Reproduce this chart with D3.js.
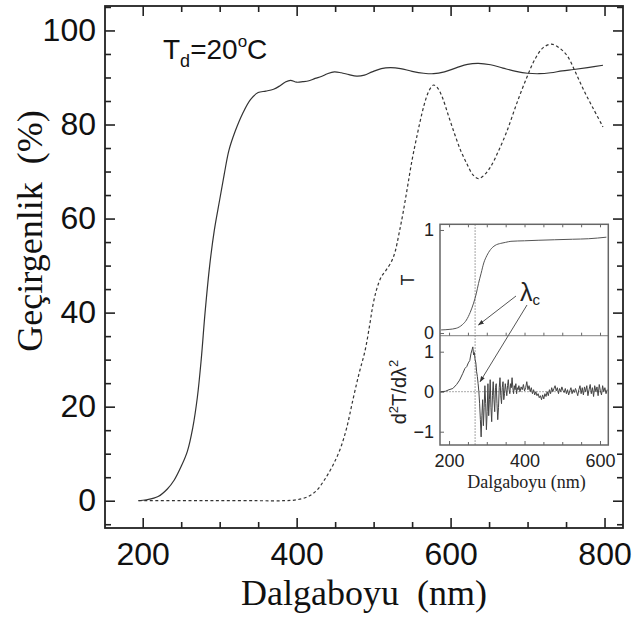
<!DOCTYPE html>
<html><head><meta charset="utf-8">
<script src="https://cdn.jsdelivr.net/npm/d3@7"></script>
<style>body{margin:0;background:#fff}</style>
</head><body>
<svg id="c" width="636" height="621" xmlns="http://www.w3.org/2000/svg"></svg>
<script>
// ---------- data ----------
const solidNm = [194,205,220,232,241,250,258,265,271,276,281,287,293,300,306,312,320,330,340,350,360,370,378,385,392,400,408,416,424,432,440,449,458,468,478,488,498,510,522,535,550,565,578,592,608,622,636,652,668,685,700,715,730,745,760,778,798];
const solidT  = [0,0.2,0.9,2.5,4.4,7.3,10.5,15.5,22,30,40,50,57.5,64,69.5,74.5,78.5,82.4,85.3,86.8,87.1,87.5,88.2,89.0,89.4,89.0,89.1,89.3,89.8,90.2,90.8,91.2,91.0,90.6,90.3,90.5,91.2,91.9,92.1,91.9,91.3,90.9,90.8,91.2,92.1,92.8,93.0,92.7,92.0,91.3,90.9,90.8,91.0,91.4,91.7,92.1,92.6];
const dashNm = [195,250,300,350,383,400,415,426,436,447,457,465,473,481,489,495,499,504,510,516,523,528,533,538,544,550,557,563,568,573,578,583,589,597,605,613,621,629,636,644,652,662,673,686,699,710,720,731,742,752,762,773,785,798];
const dashT  = [0,0,0,0,0,0.2,0.9,2.2,4.4,7.5,11.2,15.5,21.4,27,32,37.5,41.5,45,47.6,49,50.8,53,56.8,61,66.7,72.5,78.1,82.5,85.5,87.5,88.4,87.8,85.9,82,78.1,74.5,71.7,69.3,68.5,69.3,71,74.3,78.5,84.5,90,94,96.3,97.1,96.2,94.5,91.2,87.3,83.5,79.5];
const insetNm = [179,200,219,235,246,256,265,272,278,285,292,300,310,322,337,350,364,400,436,480,527,570,617];
const insetT  = [0.03,0.035,0.046,0.08,0.126,0.2,0.29,0.38,0.48,0.58,0.68,0.75,0.81,0.85,0.87,0.88,0.89,0.895,0.90,0.905,0.91,0.915,0.93];
const d2Nm = [178,190,200,210,220,228,236,242,247,251,255,258,261,263,265,267,269,271,273,275,277,279,281,283,285,287,289,291,293,295,297,299,301,303,305,307,309,311,313,315,317,319,321,323,325,327,329,331,333,335,337,339,341,343,345,347,349,351,353,355,357,359,361,363,365,367,369,371,373,375,377,379,381,383,385,388,391,394,397,400,403,406,409,412,415,418,421,424,427,430,433,436,439,442,445,448,451,454,457,460,463,466,469,472,475,478,481,484,487,490,493,496,499,502,505,508,511,514,517,520,523,526,529,532,535,538,541,544,547,550,553,556,559,562,565,568,571,574,577,580,583,586,589,592,595,598,601,604,607,610,613,616,619];
const d2Val = [0,0.01,0.05,0.08,0.18,0.29,0.45,0.58,0.63,0.72,0.78,0.95,1.05,1.12,0.92,0.98,0.8,0.72,0.5,0.38,0.2,0.0,-0.3,-0.7,-1.13,-0.6,-0.2,-0.85,-0.4,0.15,-0.3,-0.95,-0.5,0.2,-0.6,-0.2,0.3,-0.4,-0.75,-0.1,0.25,-0.2,-0.5,0.1,0.2,-0.3,-0.7,-0.4,0.1,0.35,-0.1,-0.3,0.1,0.25,-0.2,-0.05,0.2,0.05,-0.1,0.15,0.3,0.05,-0.05,0.2,0.1,0.35,0.1,-0.05,0.15,0.05,0.2,-0.05,0.1,0.05,0.15,0.0,0.12,0.05,0.18,0.02,0.1,0.25,0.05,0.15,0.0,0.1,-0.05,0.05,-0.08,0.0,-0.1,-0.05,-0.15,-0.1,-0.2,-0.08,-0.18,-0.05,-0.12,0.0,-0.1,0.05,-0.05,0.1,0.0,0.08,0.15,0.02,0.1,-0.05,0.08,0.0,0.12,0.03,-0.02,0.08,-0.05,0.05,-0.08,0.02,0.1,-0.05,0.05,-0.02,0.08,0.0,-0.1,0.05,0.15,-0.05,0.1,-0.08,0.12,0.0,0.15,-0.1,0.05,0.18,-0.05,0.1,-0.12,0.15,0.0,0.12,-0.1,0.18,0.02,-0.08,0.15,0.0,0.1,-0.05,0.05];
const lambdaC = 269;
const xMajor = [200,400,600,800];
const xMinor = [250,300,350,450,500,550,650,700,750];
const yMajor = [0,20,40,60,80,100];
const yMinor = [-5,5,10,15,25,30,35,45,50,55,65,70,75,85,90,95,105];
const insetXMajor = [200,400,600];
const insetXMinor = [250,300,350,450,500,550];
const insetTTicks = [0,1];
const insetDTicks = [-1,0,1];
const xTitle = "Dalgaboyu  (nm)";
const yTitle = "Geçirgenlik  (%)";
const insetXTitle = "Dalgaboyu (nm)";

// ---------- main chart ----------
const svg = d3.select("#c");
const SANS = "'Liberation Sans', Arial, Helvetica, sans-serif";
const SERIF = "'Liberation Serif', 'Times New Roman', serif";
const ink = "#222";

const X = d3.scaleLinear().domain([151, 824]).range([105, 623]);
const Y = d3.scaleLinear().domain([-5.8, 105.2]).range([528, 6]);

function styleAxis(g, fs) {
  g.select(".domain").remove();
  g.selectAll("line").attr("stroke", ink).attr("stroke-width", 1.6);
  g.selectAll("text").attr("font-family", SANS).attr("font-size", fs).attr("fill", "#111");
}
const main = svg.append("g");
// bottom
main.append("g").attr("transform", "translate(0,528)")
  .call(d3.axisBottom(X).tickValues(xMajor).tickSizeInner(-10).tickSizeOuter(0).tickPadding(14).tickFormat(d3.format("d")))
  .call(g => styleAxis(g, 32));
main.append("g").attr("transform", "translate(0,528)")
  .call(d3.axisBottom(X).tickValues(xMinor).tickSizeInner(-6).tickSizeOuter(0).tickFormat(""))
  .call(g => styleAxis(g, 32));
// top
main.append("g").attr("transform", "translate(0,6)")
  .call(d3.axisTop(X).tickValues(xMajor).tickSizeInner(-10).tickSizeOuter(0).tickFormat(""))
  .call(g => styleAxis(g, 32));
main.append("g").attr("transform", "translate(0,6)")
  .call(d3.axisTop(X).tickValues(xMinor).tickSizeInner(-6).tickSizeOuter(0).tickFormat(""))
  .call(g => styleAxis(g, 32));
// left
main.append("g").attr("transform", "translate(105,0)")
  .call(d3.axisLeft(Y).tickValues(yMajor).tickSizeInner(-10).tickSizeOuter(0).tickPadding(9).tickFormat(d3.format("d")))
  .call(g => styleAxis(g, 32));
main.append("g").attr("transform", "translate(105,0)")
  .call(d3.axisLeft(Y).tickValues(yMinor).tickSizeInner(-6).tickSizeOuter(0).tickFormat(""))
  .call(g => styleAxis(g, 32));
// right
main.append("g").attr("transform", "translate(623,0)")
  .call(d3.axisRight(Y).tickValues(yMajor).tickSizeInner(-10).tickSizeOuter(0).tickFormat(""))
  .call(g => styleAxis(g, 32));
main.append("g").attr("transform", "translate(623,0)")
  .call(d3.axisRight(Y).tickValues(yMinor).tickSizeInner(-6).tickSizeOuter(0).tickFormat(""))
  .call(g => styleAxis(g, 32));
// frame
main.append("rect").attr("x", X.range()[0]).attr("y", Y.range()[1])
  .attr("width", X.range()[1] - X.range()[0]).attr("height", Y.range()[0] - Y.range()[1])
  .attr("fill", "none").attr("stroke", ink).attr("stroke-width", 1.8);

// curves
const lineMain = d3.line().x(d => X(d[0])).y(d => Y(d[1])).curve(d3.curveCatmullRom.alpha(0.5));
main.append("path").datum(solidNm.map((n, i) => [n, solidT[i]]))
  .attr("d", lineMain).attr("fill", "none").attr("stroke", "#333").attr("stroke-width", 1.2);
main.append("path").datum(dashNm.map((n, i) => [n, dashT[i]]))
  .attr("d", lineMain).attr("fill", "none").attr("stroke", "#333").attr("stroke-width", 1.2)
  .attr("stroke-dasharray", "3,2.5");

// titles
main.append("text").attr("x", (X.range()[0] + X.range()[1]) / 2).attr("y", 605)
  .attr("text-anchor", "middle").attr("font-family", SERIF).attr("font-size", 36)
  .attr("fill", "#111").style("white-space", "pre").text(xTitle);
main.append("text").attr("transform", "translate(42,231) rotate(-90)")
  .attr("text-anchor", "middle").attr("font-family", SERIF).attr("font-size", 36)
  .attr("fill", "#111").style("white-space", "pre").text(yTitle);

// annotation T_d=20 oC
const ann = main.append("text").attr("x", 163).attr("y", 59)
  .attr("font-family", SANS).attr("font-size", 28).attr("fill", "#111");
ann.append("tspan").text("T");
ann.append("tspan").attr("font-size", 18).attr("dy", 8).text("d");
ann.append("tspan").attr("dy", -8).text("=20");
ann.append("tspan").attr("font-size", 17).attr("dy", -12).text("o");
ann.append("tspan").attr("dy", 12).text("C");

// ---------- inset ----------
const IX = d3.scaleLinear().domain([176, 622]).range([440, 608.3]);
const IT = d3.scaleLinear().domain([-0.026, 1.055]).range([335.7, 224.3]);
const ID = d3.scaleLinear().domain([-1.3325, 1.4]).range([445, 335.7]);
const ins = svg.append("g");
const gray = "#666";
ins.append("rect").attr("x", 440).attr("y", 224.3).attr("width", 168.3).attr("height", 220.7)
  .attr("fill", "#fff");
function styleInset(g) {
  g.select(".domain").remove();
  g.selectAll("line").attr("stroke", gray).attr("stroke-width", 1);
  g.selectAll("text").attr("font-family", SANS).attr("font-size", 18).attr("fill", "#222");
}
ins.append("line").attr("x1", 440).attr("x2", 608.3).attr("y1", IT.range()[0]).attr("y2", IT.range()[0])
  .attr("stroke", "#999").attr("stroke-width", 1.2);
ins.append("line").attr("x1", 440).attr("x2", 608.3).attr("y1", ID(0)).attr("y2", ID(0))
  .attr("stroke", "#aaa").attr("stroke-width", 1).attr("stroke-dasharray", "2,1");
ins.append("line").attr("x1", IX(lambdaC)).attr("x2", IX(lambdaC)).attr("y1", 224.3).attr("y2", 445)
  .attr("stroke", "#888").attr("stroke-width", 1).attr("stroke-dasharray", "1.5,1.5");
ins.append("g").attr("transform", "translate(0,445)")
  .call(d3.axisBottom(IX).tickValues(insetXMajor).tickSizeInner(-4).tickSizeOuter(0).tickPadding(9).tickFormat(d3.format("d")))
  .call(styleInset);
ins.append("g").attr("transform", "translate(0,445)")
  .call(d3.axisBottom(IX).tickValues(insetXMinor).tickSizeInner(-3).tickSizeOuter(0).tickFormat(""))
  .call(styleInset);
ins.append("g").attr("transform", "translate(0,224.3)")
  .call(d3.axisTop(IX).tickValues(insetXMajor.concat(insetXMinor)).tickSizeInner(-3).tickSizeOuter(0).tickFormat(""))
  .call(styleInset);
ins.append("g").attr("transform", `translate(0,${IT.range()[0]})`)
  .call(d3.axisTop(IX).tickValues(insetXMajor.concat(insetXMinor)).tickSizeInner(3).tickSizeOuter(0).tickFormat(""))
  .call(styleInset);
ins.append("g").attr("transform", "translate(440,0)")
  .call(d3.axisLeft(IT).tickValues(insetTTicks).tickSizeInner(-4).tickSizeOuter(0).tickPadding(6).tickFormat(d3.format("d")))
  .call(styleInset);
ins.append("g").attr("transform", "translate(440,0)")
  .call(d3.axisLeft(ID).tickValues(insetDTicks).tickSizeInner(-4).tickSizeOuter(0).tickPadding(6).tickFormat(d3.format("d")))
  .call(styleInset);
ins.append("rect").attr("x", 440).attr("y", 224.3).attr("width", 168.3).attr("height", 220.7)
  .attr("fill", "none").attr("stroke", gray).attr("stroke-width", 1.5);
ins.append("path").datum(insetNm.map((n, i) => [n, insetT[i]]))
  .attr("d", d3.line().x(d => IX(d[0])).y(d => IT(d[1])).curve(d3.curveMonotoneX))
  .attr("fill", "none").attr("stroke", "#555").attr("stroke-width", 1);
ins.append("path").datum(d2Nm.map((n, i) => [n, d2Val[i]]))
  .attr("d", d3.line().x(d => IX(d[0])).y(d => ID(d[1])))
  .attr("fill", "none").attr("stroke", "#444").attr("stroke-width", 1);
// labels
ins.append("text").attr("transform", "translate(414,280) rotate(-90)").attr("text-anchor", "middle")
  .attr("font-family", SANS).attr("font-size", 18).attr("fill", "#222").text("T");
const dl = ins.append("text").attr("transform", "translate(406,392) rotate(-90)").attr("text-anchor", "middle")
  .attr("font-family", SANS).attr("font-size", 20).attr("fill", "#222");
dl.append("tspan").text("d");
dl.append("tspan").attr("font-size", 13).attr("dy", -8).text("2");
dl.append("tspan").attr("dy", 8).text("T/dλ");
dl.append("tspan").attr("font-size", 13).attr("dy", -8).text("2");
ins.append("text").attr("x", 526.5).attr("y", 488).attr("text-anchor", "middle")
  .attr("font-family", SERIF).attr("font-size", 18).attr("fill", "#222").text(insetXTitle);
const lc = ins.append("text").attr("x", 520).attr("y", 301).attr("font-family", SANS)
  .attr("font-size", 25).attr("fill", "#222");
lc.append("tspan").text("λ");
lc.append("tspan").attr("font-size", 15).attr("dy", 4).text("c");
const defs = svg.append("defs");
defs.append("marker").attr("id", "ah").attr("viewBox", "0 0 10 10").attr("refX", 9).attr("refY", 5)
  .attr("markerWidth", 6).attr("markerHeight", 6).attr("orient", "auto")
  .append("path").attr("d", "M0,1.5 L10,5 L0,8.5 z").attr("fill", "#333");
[[516, 296, IX(lambdaC) + 3.4, 325], [527, 305, IX(lambdaC) + 5, 381.7]].forEach(a => {
  ins.append("line").attr("x1", a[0]).attr("y1", a[1]).attr("x2", a[2]).attr("y2", a[3])
    .attr("stroke", "#555").attr("stroke-width", 1).attr("marker-end", "url(#ah)");
});
</script>
</body></html>
